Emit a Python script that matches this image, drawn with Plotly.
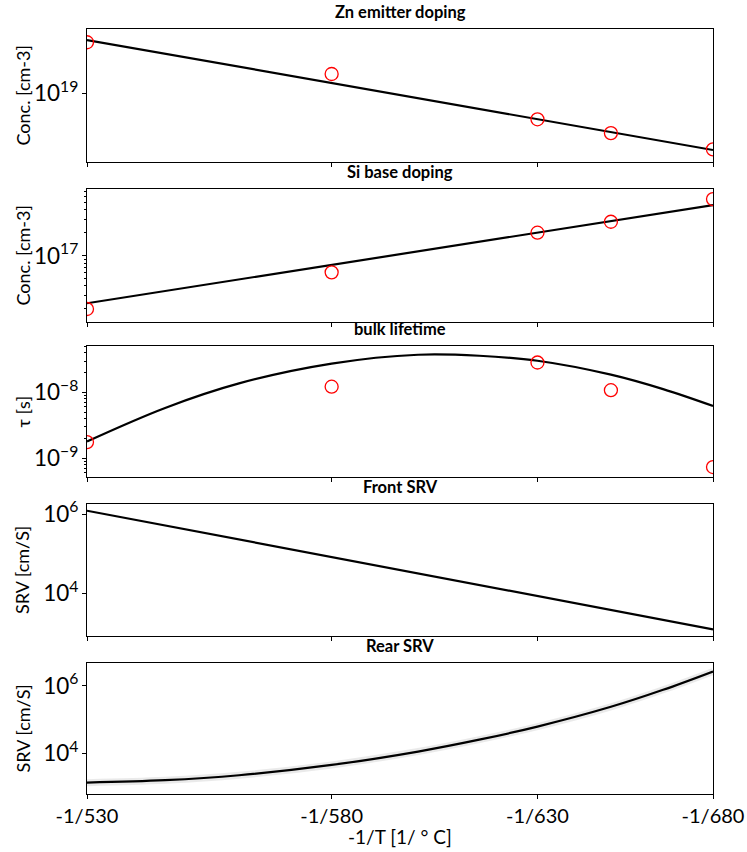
import plotly.graph_objects as go
from plotly.subplots import make_subplots

# ---------------- data ----------------
temps_pts = [530, 580, 630, 650, 680]          # measured growth temperatures [°C]
x_tick_T = [530, 580, 630, 680]
x_tick_labels = ['-1/530', '-1/580', '-1/630', '-1/680']

zn_pts = [3.24e19, 1.56e19, 5.5e18, 4.0e18, 2.75e18]
zn_fit_T = [530, 680]
zn_fit = [3.41e19, 2.71e18]

si_pts = [1.99e16, 6.05e16, 2.01e17, 2.80e17, 5.57e17]
si_fit_T = [530, 680]
si_fit = [2.37e16, 4.64e17]

tau_pts = [1.75e-9, 1.22e-8, 2.85e-8, 1.08e-8, 7.3e-10]
curve_T = [530, 545, 560, 580, 600, 615, 630, 650, 665, 680]
tau_fit = [1.79e-9, 5.8e-9, 1.37e-8, 2.74e-8, 3.74e-8, 3.61e-8, 3.03e-8, 1.86e-8, 1.12e-8, 6.2e-9]

front_T = [530, 680]
front_srv = [1.21e6, 1.26e3]

rear_srv = [1340, 1580, 2220, 4490, 1.12e4, 2.52e4, 6.17e4, 2.38e5, 7.6e5, 2.66e6]

titles = ['Zn emitter doping', 'Si base doping', 'bulk lifetime', 'Front SRV', 'Rear SRV']
ylabels = ['Conc. [cm-3]', 'Conc. [cm-3]', 'τ [s]', 'SRV [cm/S]', 'SRV [cm/S]']
xlabel = '-1/T [1/ ° C]'


def inv(ts):
    return [-1.0 / t for t in ts]


# ---------------- figure ----------------
fig = make_subplots(rows=5, cols=1, shared_xaxes=True)

LINE = dict(color='black', width=2.2)
MARK = dict(symbol='circle-open', size=13, color='red', line=dict(width=1.3, color='red'))

# panel 1
fig.add_trace(go.Scatter(x=inv(zn_fit_T), y=zn_fit, mode='lines', line=LINE), row=1, col=1)
fig.add_trace(go.Scatter(x=inv(temps_pts), y=zn_pts, mode='markers', marker=MARK), row=1, col=1)
# panel 2
fig.add_trace(go.Scatter(x=inv(si_fit_T), y=si_fit, mode='lines', line=LINE), row=2, col=1)
fig.add_trace(go.Scatter(x=inv(temps_pts), y=si_pts, mode='markers', marker=MARK), row=2, col=1)
# panel 3
fig.add_trace(go.Scatter(x=inv(curve_T), y=tau_fit, mode='lines',
                         line=dict(color='black', width=2.2, shape='spline')), row=3, col=1)
fig.add_trace(go.Scatter(x=inv(temps_pts), y=tau_pts, mode='markers', marker=MARK), row=3, col=1)
# panel 4
fig.add_trace(go.Scatter(x=inv(front_T), y=front_srv, mode='lines', line=LINE), row=4, col=1)
# panel 5 (grey halo + line)
fig.add_trace(go.Scatter(x=inv(curve_T), y=rear_srv, mode='lines',
                         line=dict(color='rgba(150,150,150,0.2)', width=7, shape='spline')), row=5, col=1)
fig.add_trace(go.Scatter(x=inv(curve_T), y=rear_srv, mode='lines',
                         line=dict(color='black', width=2.2, shape='spline')), row=5, col=1)

domains = [[0.8261, 1.0], [0.6170, 0.7908], [0.4144, 0.5856], [0.2065, 0.3791], [0.0, 0.1712]]
yranges = [[18.313, 19.643], [16.128, 17.878], [-9.288, -7.294], [2.931, 6.252], [2.790, 6.675]]
ydticks = [1, 1, 1, 2, 2]
minor_on = [False, True, True, False, False]

XTICKFONT = dict(family='Lato, Open Sans, sans-serif', size=20, color='black')
YTICKFONT = dict(family='Lato, Open Sans, sans-serif', size=18, color='black')

for i in range(5):
    n = '' if i == 0 else str(i + 1)
    yax = dict(type='log', domain=domains[i], range=yranges[i], automargin=False,
               showline=True, linecolor='black', linewidth=1, mirror=True,
               showgrid=False, zeroline=False,
               ticks='outside', ticklen=4, tickcolor='black',
               tickmode='linear', tick0=0, dtick=ydticks[i],
               exponentformat='power', tickfont=YTICKFONT)
    if minor_on[i]:
        yax['minor'] = dict(ticks='outside', ticklen=2, tickcolor='black', dtick='D1', showgrid=False)
    fig.layout['yaxis' + n].update(yax)
    fig.layout['xaxis' + n].update(dict(
        range=[-1.0 / 530, -1.0 / 680], automargin=False,
        showline=True, linecolor='black', linewidth=1, mirror=True,
        showgrid=False, zeroline=False,
        ticks='outside', ticklen=4, tickcolor='black',
        tickmode='array', tickvals=inv(x_tick_T), ticktext=x_tick_labels,
        showticklabels=(i == 4), tickfont=XTICKFONT))

annotations = []
for i in range(5):
    top = domains[i][1]
    mid = (domains[i][0] + domains[i][1]) / 2
    annotations.append(dict(text='<b>' + titles[i] + '</b>', x=0.5, y=top, xref='paper', yref='paper',
                            xanchor='center', yanchor='middle', yshift=17, showarrow=False,
                            font=dict(family='Lato, sans-serif', size=16.5, color='black')))
    annotations.append(dict(text=ylabels[i], x=-0.1038, y=mid, xref='paper', yref='paper',
                            xanchor='center', yanchor='middle', textangle=-90, showarrow=False,
                            font=dict(family='Lato, sans-serif', size=18, color='black')))
annotations.append(dict(text=xlabel, x=0.5, y=0, xref='paper', yref='paper',
                        xanchor='center', yanchor='middle', yshift=-42, showarrow=False,
                        font=dict(family='Lato, sans-serif', size=19, color='black')))

fig.update_layout(width=747, height=852, margin=dict(l=87, r=34, t=29, b=58, autoexpand=False),
                  paper_bgcolor='white', plot_bgcolor='white', showlegend=False,
                  annotations=annotations)

fig.write_html('out.html', config={'displayModeBar': False},
               post_script="document.body.style.margin='0px';document.body.style.overflow='hidden';")
